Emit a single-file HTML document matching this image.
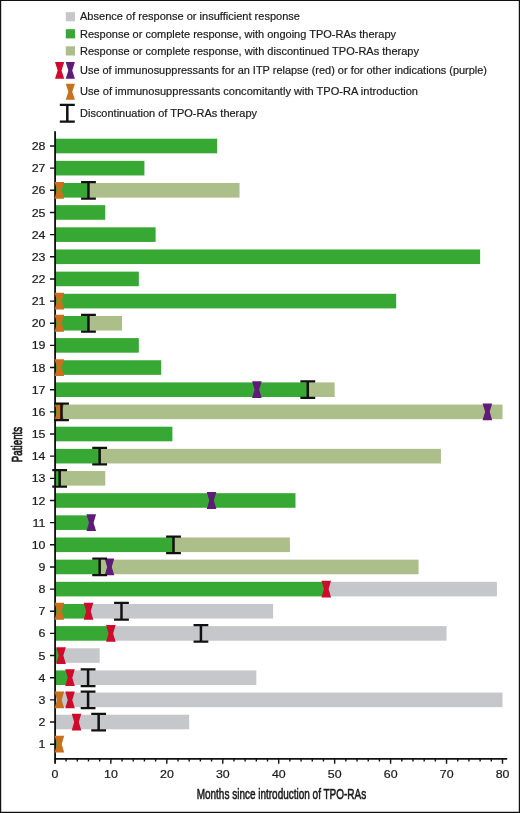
<!DOCTYPE html>
<html lang="en">
<head>
<meta charset="utf-8">
<title>TPO-RAs response chart</title>
<style>
html,body{margin:0;padding:0;background:#fff;}
body{width:520px;height:813px;overflow:hidden;}
svg{display:block;}
text{font-family:"Liberation Sans",sans-serif;fill:#1a1a1a;stroke:#1a1a1a;stroke-width:0.2px;}
.lg{font-size:11.5px;}
.tk{font-size:11.5px;}
.ax{font-size:14px;stroke-width:0.55px;}
</style>
</head>
<body>
<svg width="520" height="813" viewBox="0 0 520 813">
<rect x="0" y="0" width="520" height="813" fill="#fff"/>

<g id="legend">
<rect x="65.8" y="12.1" width="9.2" height="9.2" fill="#c6c7ca"/>
<rect x="65.8" y="29.2" width="9.2" height="9.2" fill="#37a834"/>
<rect x="65.8" y="46.3" width="9.2" height="9.2" fill="#acbe8a"/>
<polygon fill="#cf0a2d" points="55.00,62.10 64.20,62.10 61.55,70.40 64.20,78.70 55.00,78.70 57.65,70.40"/>
<polygon fill="#5f1b78" points="65.70,62.10 74.90,62.10 72.25,70.40 74.90,78.70 65.70,78.70 68.35,70.40"/>
<polygon fill="#c8701c" points="65.70,83.65 74.90,83.65 72.25,91.75 74.90,99.85 65.70,99.85 68.35,91.75"/>
<path stroke="#111" stroke-width="2.50" fill="none" d="M67.30 104.88V121.62"/><path stroke="#111" stroke-width="2.25" fill="none" d="M59.80 104.88H74.80M59.80 121.62H74.80"/>
<text class="lg" x="80" y="20.00" textLength="220.0" lengthAdjust="spacingAndGlyphs">Absence of response or insufficient response</text>
<text class="lg" x="80" y="38.00" textLength="316.0" lengthAdjust="spacingAndGlyphs">Response or complete response, with ongoing TPO-RAs therapy</text>
<text class="lg" x="80" y="55.00" textLength="339.0" lengthAdjust="spacingAndGlyphs">Response or complete response, with discontinued TPO-RAs therapy</text>
<text class="lg" x="80" y="74.00" textLength="407.0" lengthAdjust="spacingAndGlyphs">Use of immunosuppressants for an ITP relapse (red) or for other indications (purple)</text>
<text class="lg" x="80" y="95.00" textLength="338.0" lengthAdjust="spacingAndGlyphs">Use of immunosuppressants concomitantly with TPO-RA introduction</text>
<text class="lg" x="80" y="117.00" textLength="177.0" lengthAdjust="spacingAndGlyphs">Discontinuation of TPO-RAs therapy</text>
</g>
<g id="bars">
<rect x="54.90" y="138.70" width="162.25" height="14.60" fill="#37a834"/>
<rect x="54.90" y="160.85" width="89.52" height="14.60" fill="#37a834"/>
<rect x="54.90" y="183.01" width="33.57" height="14.60" fill="#37a834"/>
<rect x="88.47" y="183.01" width="151.06" height="14.60" fill="#acbe8a"/>
<rect x="54.90" y="205.16" width="50.35" height="14.60" fill="#37a834"/>
<rect x="54.90" y="227.32" width="100.71" height="14.60" fill="#37a834"/>
<rect x="54.90" y="249.47" width="425.22" height="14.60" fill="#37a834"/>
<rect x="54.90" y="271.63" width="83.92" height="14.60" fill="#37a834"/>
<rect x="54.90" y="293.79" width="341.29" height="14.60" fill="#37a834"/>
<rect x="54.90" y="315.94" width="33.57" height="14.60" fill="#37a834"/>
<rect x="88.47" y="315.94" width="33.57" height="14.60" fill="#acbe8a"/>
<rect x="54.90" y="338.09" width="83.92" height="14.60" fill="#37a834"/>
<rect x="54.90" y="360.25" width="106.30" height="14.60" fill="#37a834"/>
<rect x="54.90" y="382.41" width="252.89" height="14.60" fill="#37a834"/>
<rect x="307.79" y="382.41" width="26.86" height="14.60" fill="#acbe8a"/>
<rect x="54.90" y="404.56" width="6.60" height="14.60" fill="#37a834"/>
<rect x="61.50" y="404.56" width="441.00" height="14.60" fill="#acbe8a"/>
<rect x="54.90" y="426.71" width="117.49" height="14.60" fill="#37a834"/>
<rect x="54.90" y="448.87" width="44.76" height="14.60" fill="#37a834"/>
<rect x="99.66" y="448.87" width="341.29" height="14.60" fill="#acbe8a"/>
<rect x="54.90" y="471.03" width="4.76" height="14.60" fill="#37a834"/>
<rect x="59.66" y="471.03" width="45.60" height="14.60" fill="#acbe8a"/>
<rect x="54.90" y="493.18" width="240.58" height="14.60" fill="#37a834"/>
<rect x="54.90" y="515.34" width="36.37" height="14.60" fill="#37a834"/>
<rect x="54.90" y="537.49" width="118.61" height="14.60" fill="#37a834"/>
<rect x="173.51" y="537.49" width="116.38" height="14.60" fill="#acbe8a"/>
<rect x="54.90" y="559.65" width="44.76" height="14.60" fill="#37a834"/>
<rect x="99.66" y="559.65" width="318.91" height="14.60" fill="#acbe8a"/>
<rect x="54.90" y="581.80" width="271.36" height="14.60" fill="#37a834"/>
<rect x="326.26" y="581.80" width="170.65" height="14.60" fill="#c6c7ca"/>
<rect x="54.90" y="603.96" width="33.57" height="14.60" fill="#37a834"/>
<rect x="88.47" y="603.96" width="184.63" height="14.60" fill="#c6c7ca"/>
<rect x="54.90" y="626.11" width="55.95" height="14.60" fill="#37a834"/>
<rect x="110.85" y="626.11" width="335.70" height="14.60" fill="#c6c7ca"/>
<rect x="54.90" y="648.27" width="6.15" height="14.60" fill="#37a834"/>
<rect x="61.05" y="648.27" width="38.61" height="14.60" fill="#c6c7ca"/>
<rect x="54.90" y="670.42" width="15.11" height="14.60" fill="#37a834"/>
<rect x="70.01" y="670.42" width="186.31" height="14.60" fill="#c6c7ca"/>
<rect x="54.90" y="692.58" width="447.60" height="14.60" fill="#c6c7ca"/>
<rect x="54.90" y="714.73" width="134.28" height="14.60" fill="#c6c7ca"/>
<rect x="54.90" y="736.89" width="2.24" height="14.60" fill="#37a834"/>
</g>
<g id="axes" stroke="#111" fill="none">
<path stroke-width="1.85" d="M55.1 131.2V763.7"/>
<path stroke-width="1.75" d="M54.2 758.9H507.2"/>
<path stroke-width="1.4" d="M50 744.19H55M50 722.03H55M50 699.88H55M50 677.72H55M50 655.57H55M50 633.41H55M50 611.25H55M50 589.10H55M50 566.95H55M50 544.79H55M50 522.63H55M50 500.48H55M50 478.33H55M50 456.17H55M50 434.01H55M50 411.86H55M50 389.71H55M50 367.55H55M50 345.39H55M50 323.24H55M50 301.09H55M50 278.93H55M50 256.77H55M50 234.62H55M50 212.47H55M50 190.31H55M50 168.16H55M50 146.00H55"/>
<path stroke-width="1.4" d="M66.09 758.9V761.5M77.28 758.9V761.5M88.47 758.9V761.5M99.66 758.9V761.5M110.85 758.9V763.7M122.04 758.9V761.5M133.23 758.9V761.5M144.42 758.9V761.5M155.61 758.9V761.5M166.80 758.9V763.7M177.99 758.9V761.5M189.18 758.9V761.5M200.37 758.9V761.5M211.56 758.9V761.5M222.75 758.9V763.7M233.94 758.9V761.5M245.13 758.9V761.5M256.32 758.9V761.5M267.51 758.9V761.5M278.70 758.9V763.7M289.89 758.9V761.5M301.08 758.9V761.5M312.27 758.9V761.5M323.46 758.9V761.5M334.65 758.9V763.7M345.84 758.9V761.5M357.03 758.9V761.5M368.22 758.9V761.5M379.41 758.9V761.5M390.60 758.9V763.7M401.79 758.9V761.5M412.98 758.9V761.5M424.17 758.9V761.5M435.36 758.9V761.5M446.55 758.9V763.7M457.74 758.9V761.5M468.93 758.9V761.5M480.12 758.9V761.5M491.31 758.9V761.5M502.50 758.9V763.7"/>
</g>
<g id="markers">
<polygon fill="#c8701c" points="54.58,181.91 64.18,181.91 61.68,190.31 64.18,198.71 54.58,198.71 57.08,190.31"/>
<path stroke="#111" stroke-width="2.50" fill="none" d="M88.47 182.03V198.59"/><path stroke="#111" stroke-width="2.25" fill="none" d="M81.07 182.03H95.87M81.07 198.59H95.87"/>
<polygon fill="#c8701c" points="54.58,292.69 64.18,292.69 61.68,301.09 64.18,309.49 54.58,309.49 57.08,301.09"/>
<polygon fill="#c8701c" points="54.58,314.84 64.18,314.84 61.68,323.24 64.18,331.64 54.58,331.64 57.08,323.24"/>
<path stroke="#111" stroke-width="2.50" fill="none" d="M88.47 314.97V331.51"/><path stroke="#111" stroke-width="2.25" fill="none" d="M81.07 314.97H95.87M81.07 331.51H95.87"/>
<polygon fill="#c8701c" points="54.58,359.15 64.18,359.15 61.68,367.55 64.18,375.95 54.58,375.95 57.08,367.55"/>
<polygon fill="#5f1b78" points="252.08,381.31 261.68,381.31 259.18,389.71 261.68,398.11 252.08,398.11 254.58,389.71"/>
<path stroke="#111" stroke-width="2.50" fill="none" d="M307.79 381.43V397.98"/><path stroke="#111" stroke-width="2.25" fill="none" d="M300.39 381.43H315.19M300.39 397.98H315.19"/>
<polygon fill="#c8701c" points="54.58,403.46 64.18,403.46 61.68,411.86 64.18,420.26 54.58,420.26 57.08,411.86"/>
<polygon fill="#5f1b78" points="482.59,403.46 492.19,403.46 489.69,411.86 492.19,420.26 482.59,420.26 485.09,411.86"/>
<path stroke="#111" stroke-width="2.50" fill="none" d="M61.50 403.59V420.13"/><path stroke="#111" stroke-width="2.25" fill="none" d="M54.10 403.59H68.90M54.10 420.13H68.90"/>
<path stroke="#111" stroke-width="2.50" fill="none" d="M99.66 447.90V464.44"/><path stroke="#111" stroke-width="2.25" fill="none" d="M92.26 447.90H107.06M92.26 464.44H107.06"/>
<path stroke="#111" stroke-width="2.50" fill="none" d="M59.66 470.05V486.60"/><path stroke="#111" stroke-width="2.25" fill="none" d="M52.26 470.05H67.06M52.26 486.60H67.06"/>
<polygon fill="#5f1b78" points="206.76,492.08 216.36,492.08 213.86,500.48 216.36,508.88 206.76,508.88 209.26,500.48"/>
<polygon fill="#5f1b78" points="86.47,514.24 96.07,514.24 93.57,522.63 96.07,531.03 86.47,531.03 88.97,522.63"/>
<path stroke="#111" stroke-width="2.50" fill="none" d="M173.51 536.51V553.06"/><path stroke="#111" stroke-width="2.25" fill="none" d="M166.11 536.51H180.91M166.11 553.06H180.91"/>
<polygon fill="#5f1b78" points="104.65,558.55 114.25,558.55 111.75,566.95 114.25,575.35 104.65,575.35 107.15,566.95"/>
<path stroke="#111" stroke-width="2.50" fill="none" d="M99.66 558.67V575.22"/><path stroke="#111" stroke-width="2.25" fill="none" d="M92.26 558.67H107.06M92.26 575.22H107.06"/>
<polygon fill="#cf0a2d" points="321.46,580.70 331.06,580.70 328.56,589.10 331.06,597.50 321.46,597.50 323.96,589.10"/>
<polygon fill="#c8701c" points="54.58,602.86 64.18,602.86 61.68,611.25 64.18,619.65 54.58,619.65 57.08,611.25"/>
<polygon fill="#cf0a2d" points="83.67,602.86 93.27,602.86 90.77,611.25 93.27,619.65 83.67,619.65 86.17,611.25"/>
<path stroke="#111" stroke-width="2.50" fill="none" d="M121.48 602.98V619.53"/><path stroke="#111" stroke-width="2.25" fill="none" d="M114.08 602.98H128.88M114.08 619.53H128.88"/>
<polygon fill="#cf0a2d" points="106.05,625.01 115.65,625.01 113.15,633.41 115.65,641.81 106.05,641.81 108.55,633.41"/>
<path stroke="#111" stroke-width="2.50" fill="none" d="M200.93 625.14V641.69"/><path stroke="#111" stroke-width="2.25" fill="none" d="M193.53 625.14H208.33M193.53 641.69H208.33"/>
<polygon fill="#cf0a2d" points="56.25,647.17 65.85,647.17 63.35,655.57 65.85,663.97 56.25,663.97 58.75,655.57"/>
<polygon fill="#cf0a2d" points="65.21,669.32 74.81,669.32 72.31,677.72 74.81,686.12 65.21,686.12 67.71,677.72"/>
<path stroke="#111" stroke-width="2.50" fill="none" d="M88.08 669.45V686.00"/><path stroke="#111" stroke-width="2.25" fill="none" d="M80.68 669.45H95.48M80.68 686.00H95.48"/>
<polygon fill="#c8701c" points="54.58,691.48 64.18,691.48 61.68,699.88 64.18,708.27 54.58,708.27 57.08,699.88"/>
<polygon fill="#cf0a2d" points="65.21,691.48 74.81,691.48 72.31,699.88 74.81,708.27 65.21,708.27 67.71,699.88"/>
<path stroke="#111" stroke-width="2.50" fill="none" d="M88.08 691.60V708.15"/><path stroke="#111" stroke-width="2.25" fill="none" d="M80.68 691.60H95.48M80.68 708.15H95.48"/>
<polygon fill="#cf0a2d" points="71.70,713.63 81.30,713.63 78.80,722.03 81.30,730.43 71.70,730.43 74.20,722.03"/>
<path stroke="#111" stroke-width="2.50" fill="none" d="M98.65 713.75V730.30"/><path stroke="#111" stroke-width="2.25" fill="none" d="M91.25 713.75H106.05M91.25 730.30H106.05"/>
<polygon fill="#c8701c" points="54.58,735.79 64.18,735.79 61.68,744.19 64.18,752.59 54.58,752.59 57.08,744.19"/>
</g>
<g id="ylabels" text-anchor="end">
<text class="tk" transform="translate(45.5 150.05) scale(1.08 1.02)">28</text>
<text class="tk" transform="translate(45.5 172.21) scale(1.08 1.02)">27</text>
<text class="tk" transform="translate(45.5 194.36) scale(1.08 1.02)">26</text>
<text class="tk" transform="translate(45.5 216.52) scale(1.08 1.02)">25</text>
<text class="tk" transform="translate(45.5 238.67) scale(1.08 1.02)">24</text>
<text class="tk" transform="translate(45.5 260.82) scale(1.08 1.02)">23</text>
<text class="tk" transform="translate(45.5 282.98) scale(1.08 1.02)">22</text>
<text class="tk" transform="translate(45.5 305.14) scale(1.08 1.02)">21</text>
<text class="tk" transform="translate(45.5 327.29) scale(1.08 1.02)">20</text>
<text class="tk" transform="translate(45.5 349.44) scale(1.08 1.02)">19</text>
<text class="tk" transform="translate(45.5 371.60) scale(1.08 1.02)">18</text>
<text class="tk" transform="translate(45.5 393.76) scale(1.08 1.02)">17</text>
<text class="tk" transform="translate(45.5 415.91) scale(1.08 1.02)">16</text>
<text class="tk" transform="translate(45.5 438.06) scale(1.08 1.02)">15</text>
<text class="tk" transform="translate(45.5 460.22) scale(1.08 1.02)">14</text>
<text class="tk" transform="translate(45.5 482.38) scale(1.08 1.02)">13</text>
<text class="tk" transform="translate(45.5 504.53) scale(1.08 1.02)">12</text>
<text class="tk" transform="translate(45.5 526.68) scale(1.08 1.02)">11</text>
<text class="tk" transform="translate(45.5 548.84) scale(1.08 1.02)">10</text>
<text class="tk" transform="translate(45.5 571.00) scale(1.08 1.02)">9</text>
<text class="tk" transform="translate(45.5 593.15) scale(1.08 1.02)">8</text>
<text class="tk" transform="translate(45.5 615.30) scale(1.08 1.02)">7</text>
<text class="tk" transform="translate(45.5 637.46) scale(1.08 1.02)">6</text>
<text class="tk" transform="translate(45.5 659.62) scale(1.08 1.02)">5</text>
<text class="tk" transform="translate(45.5 681.77) scale(1.08 1.02)">4</text>
<text class="tk" transform="translate(45.5 703.92) scale(1.08 1.02)">3</text>
<text class="tk" transform="translate(45.5 726.08) scale(1.08 1.02)">2</text>
<text class="tk" transform="translate(45.5 748.24) scale(1.08 1.02)">1</text>
</g>
<g id="xlabels" text-anchor="middle">
<text class="tk" transform="translate(55.00 778.4) scale(1.08 1.02)">0</text>
<text class="tk" transform="translate(110.95 778.4) scale(1.08 1.02)">10</text>
<text class="tk" transform="translate(166.90 778.4) scale(1.08 1.02)">20</text>
<text class="tk" transform="translate(222.85 778.4) scale(1.08 1.02)">30</text>
<text class="tk" transform="translate(278.80 778.4) scale(1.08 1.02)">40</text>
<text class="tk" transform="translate(334.75 778.4) scale(1.08 1.02)">50</text>
<text class="tk" transform="translate(390.70 778.4) scale(1.08 1.02)">60</text>
<text class="tk" transform="translate(446.65 778.4) scale(1.08 1.02)">70</text>
<text class="tk" transform="translate(502.60 778.4) scale(1.08 1.02)">80</text>
</g>
<text class="ax" x="196.7" y="798.6" textLength="169.5" lengthAdjust="spacingAndGlyphs">Months since introduction of TPO-RAs</text>
<text class="ax" style="stroke-width:0.75px" transform="translate(22.4 462.2) rotate(-90)" x="0" y="0" textLength="35.4" lengthAdjust="spacingAndGlyphs">Patients</text>
<path fill="#111" d="M0 0H520V813H0ZM1.2 1.1V811.7H518.8V1.1Z" fill-rule="evenodd"/>
</svg>
</body>
</html>
